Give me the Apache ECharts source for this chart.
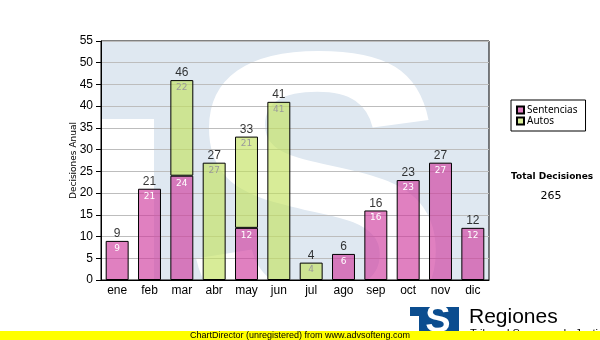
<!DOCTYPE html>
<html>
<head>
<meta charset="utf-8">
<script src="https://cdn.jsdelivr.net/npm/echarts@6/dist/echarts.min.js"></script>
<style>
  html, body { margin: 0; padding: 0; background: #fff; }
  #chart { width: 600px; height: 340px; }
</style>
</head>
<body>
<div id="chart"></div>
<script>
// Monthly decisions, split by type
const months = ['ene', 'feb', 'mar', 'abr', 'may', 'jun', 'jul', 'ago', 'sep', 'oct', 'nov', 'dic'];
const sentencias = [9, 21, 24, 0, 12, 0, 0, 6, 16, 23, 27, 12];
const autos = [0, 0, 22, 27, 21, 41, 4, 0, 0, 0, 0, 0];
const yTicks = { min: 0, max: 55, interval: 5 };

const totals = months.map((_, i) => sentencias[i] + autos[i]);
const grandTotal = totals.reduce((a, b) => a + b, 0);

const PLOT = { left: 101, top: 41, right: 489, bottom: 280 };
const FONT = '"Liberation Sans", Arial, sans-serif';
const SMALL = '"DejaVu Sans", Tahoma, sans-serif';

const chart = echarts.init(document.getElementById('chart'), null, { renderer: 'canvas' });

function insideLabel(color) {
  return {
    show: true,
    position: 'insideTop',
    distance: 3,
    color: color,
    fontFamily: SMALL,
    fontSize: 9,
    formatter: p => (p.value ? String(p.value) : '')
  };
}

chart.setOption({
  animation: false,
  grid: {
    left: PLOT.left,
    top: PLOT.top,
    right: 600 - PLOT.right,
    bottom: 340 - PLOT.bottom,
    show: true,
    borderColor: '#000',
    borderWidth: 1,
    backgroundColor: 'transparent'
  },
  legend: {
    data: ['Sentencias', 'Autos'],
    orient: 'vertical',
    left: 511,
    top: 100,
    padding: [5, 8, 5, 5],
    itemGap: 1,
    itemWidth: 7,
    itemHeight: 7,
    borderColor: '#000',
    borderWidth: 1,
    backgroundColor: '#fff',
    textStyle: { fontFamily: '"Noto Sans", Tahoma, sans-serif', fontSize: 10, color: '#000', padding: [0, 0, 0, -2] },
    icon: 'rect'
  },
  xAxis: {
    type: 'category',
    data: months,
    axisLine: { lineStyle: { color: '#000', width: 1 } },
    axisTick: { alignWithLabel: true, length: 4, lineStyle: { color: '#000' } },
    axisLabel: { color: '#000', fontFamily: FONT, fontSize: 12, margin: 5 },
    splitLine: { show: false }
  },
  yAxis: {
    type: 'value',
    min: yTicks.min,
    max: yTicks.max,
    interval: yTicks.interval,
    name: 'Decisiones Anual',
    nameLocation: 'middle',
    nameGap: 23,
    nameMoveOverlap: false,
    nameRotate: 90,
    nameTextStyle: { color: '#000', fontFamily: SMALL, fontSize: 9 },
    axisLine: { show: true, lineStyle: { color: '#000', width: 1 } },
    axisTick: { show: true, length: 5, lineStyle: { color: '#000' } },
    axisLabel: { color: '#000', fontFamily: FONT, fontSize: 12, margin: 8 },
    splitLine: { show: true, lineStyle: { color: '#bdbdbd', width: 1 } }
  },
  series: [
    {
      name: 'Sentencias',
      type: 'bar',
      stack: 'dec',
      barWidth: '71%',
      data: sentencias.map(v => (v ? v : null)),
      itemStyle: { color: 'rgba(207,57,157,0.64)', borderColor: '#000', borderWidth: 1 },
      label: insideLabel('#ffffff')
    },
    {
      name: 'Autos',
      type: 'bar',
      stack: 'dec',
      barWidth: '71%',
      data: autos.map(v => (v ? v : null)),
      itemStyle: { color: 'rgba(194,225,94,0.64)', borderColor: '#000', borderWidth: 1 },
      label: insideLabel('#9a9a9a')
    },
    {
      name: 'Total',
      type: 'scatter',
      data: totals,
      symbolSize: 0,
      silent: true,
      label: {
        show: true,
        position: 'top',
        distance: 1,
        color: '#000',
        fontFamily: FONT,
        fontSize: 12
      }
    }
  ],
  graphic: [
    // plot background with the large emblem behind the bars
    {
      type: 'rect', z: -20, silent: true,
      shape: { x: PLOT.left, y: PLOT.top, width: PLOT.right - PLOT.left, height: PLOT.bottom - PLOT.top },
      style: { fill: '#dfe8f1' }
    },
    {
      type: 'rect', z: -19, silent: true,
      shape: { x: PLOT.left, y: 119, width: 53, height: PLOT.bottom - 119 },
      style: { fill: '#ffffff' }
    },
    {
      type: 'text', z: -19, silent: true,
      x: 318, y: 20,
      style: {
        text: 'S', fill: '#ffffff',
        font: 'bold 400px "Liberation Sans", Arial, sans-serif',
        align: 'center', verticalAlign: 'top'
      }
    },
    // mask anything of the emblem that falls outside the plot
    { type: 'rect', z: -18, silent: true, shape: { x: 0, y: 0, width: 600, height: PLOT.top }, style: { fill: '#fff' } },
    { type: 'rect', z: -18, silent: true, shape: { x: 0, y: PLOT.bottom, width: 600, height: 340 - PLOT.bottom }, style: { fill: '#fff' } },
    // summary text
    {
      type: 'text', left: 511, top: 172, silent: true,
      style: { text: 'Total Decisiones', fill: '#000', font: 'bold 9px "DejaVu Sans", Tahoma, sans-serif' }
    },
    {
      type: 'text', x: 551, y: 196, silent: true,
      style: { text: String(grandTotal), fill: '#000', font: '11px "DejaVu Sans", Tahoma, sans-serif', align: 'center', verticalAlign: 'middle' }
    },
    // footer logo
    {
      type: 'rect', z: 5, silent: true,
      shape: { x: 410, y: 307, width: 49, height: 30 },
      style: { fill: '#0b4d8f' }
    },
    {
      type: 'rect', z: 6, silent: true,
      shape: { x: 410, y: 316, width: 9, height: 21 },
      style: { fill: '#ffffff' }
    },
    {
      type: 'text', z: 6, silent: true, x: 438, y: 303,
      style: { text: 'S', fill: '#ffffff', font: 'bold 38px "Liberation Sans", Arial, sans-serif', align: 'center', verticalAlign: 'top' }
    },
    {
      type: 'text', z: 6, silent: true, x: 469, y: 317,
      style: { text: 'Regiones', fill: '#000', font: '21px "Liberation Sans", Arial, sans-serif', verticalAlign: 'middle' }
    },
    {
      type: 'text', z: 6, silent: true, x: 470, y: 328,
      style: { text: 'Tribunal Supremo de Justicia', fill: '#000', font: '11px "Liberation Sans", Arial, sans-serif', verticalAlign: 'top' }
    },
    {
      type: 'rect', z: 8, silent: true,
      shape: { x: 0, y: 331, width: 600, height: 9 },
      style: { fill: '#ffff00' }
    },
    {
      type: 'text', z: 9, silent: true, x: 190, y: 336,
      style: { text: 'ChartDirector (unregistered) from www.advsofteng.com', fill: '#000', font: '9px "Liberation Sans", Arial, sans-serif', verticalAlign: 'middle' }
    }
  ]
});
</script>
</body>
</html>
